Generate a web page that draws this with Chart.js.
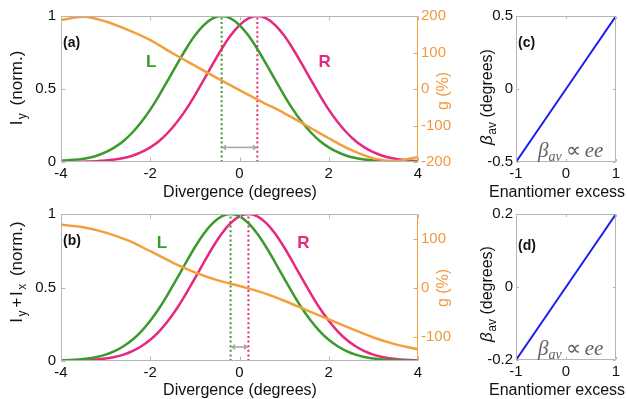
<!DOCTYPE html>
<html>
<head>
<meta charset="utf-8">
<script src="https://cdn.jsdelivr.net/npm/chart.js@4.4.1/dist/chart.umd.min.js"></script>
<style>
html,body{margin:0;padding:0;background:#fff;overflow:hidden;}
#fig{position:relative;width:627px;height:399px;background:#fff;}
#fig canvas{position:absolute;left:0;top:0;}
</style>
</head>
<body>
<div id="fig">
<canvas id="panelA" width="627" height="399"></canvas>
<canvas id="panelB" width="627" height="399"></canvas>
<canvas id="panelC" width="627" height="399"></canvas>
<canvas id="panelD" width="627" height="399"></canvas>
</div>
<script>
// ================= DATA =================
// Divergence axis samples (degrees)
const divergence = [-4.0,-3.8,-3.6,-3.4,-3.2,-3.0,-2.8,-2.6,-2.4,-2.2,-2.0,-1.8,-1.6,-1.4,-1.2,-1.0,-0.8,-0.6,-0.4,-0.2,0.0,0.2,0.4,0.6,0.8,1.0,1.2,1.4,1.6,1.8,2.0,2.2,2.4,2.6,2.8,3.0,3.2,3.4,3.6,3.8,4.0];
// Panel (a): I_y (norm.) for L and R
const intensityL_a = [0.010,0.013,0.018,0.027,0.043,0.067,0.100,0.144,0.202,0.274,0.359,0.457,0.562,0.670,0.774,0.866,0.938,0.984,1.000,0.984,0.938,0.866,0.774,0.670,0.562,0.457,0.359,0.274,0.202,0.144,0.100,0.067,0.043,0.027,0.017,0.010,0.006,0.003,0.002,0.001,0.000];
const intensityR_a = [0.000,0.001,0.002,0.003,0.006,0.010,0.017,0.027,0.043,0.067,0.100,0.144,0.202,0.274,0.359,0.457,0.562,0.670,0.774,0.866,0.938,0.984,1.000,0.984,0.938,0.866,0.774,0.670,0.562,0.457,0.359,0.274,0.202,0.144,0.100,0.067,0.043,0.027,0.017,0.010,0.006];
// Panel (b): I_y + I_x (norm.) for L and R
const intensityL_b = [0.004,0.006,0.010,0.017,0.027,0.043,0.067,0.100,0.144,0.202,0.274,0.359,0.457,0.562,0.670,0.774,0.866,0.938,0.984,1.000,0.984,0.938,0.866,0.774,0.670,0.562,0.457,0.359,0.274,0.202,0.144,0.100,0.067,0.043,0.027,0.017,0.010,0.006,0.003,0.002,0.001];
const intensityR_b = [0.001,0.002,0.003,0.006,0.010,0.017,0.027,0.043,0.067,0.100,0.144,0.202,0.274,0.359,0.457,0.562,0.670,0.774,0.866,0.938,0.984,1.000,0.984,0.938,0.866,0.774,0.670,0.562,0.457,0.359,0.274,0.202,0.144,0.100,0.067,0.043,0.027,0.017,0.010,0.006,0.004];
// g (%) curves
const gDivergence = [-4,-3.5,-3,-2.5,-2,-1.5,-1,-0.5,0,0.5,1,1.5,2,2.5,3,3.5,4];
const g_a = [189,198,185,162,134,98,64,30,-3,-35,-66,-100,-135,-167,-190,-197,-186];
const g_b = [128,123,112,96,74,51,31,15,3,-10,-27,-46,-65,-84,-102,-116,-126];
// Peak positions (degrees) of L and R
const peaks_a = [-0.4, 0.4];
const peaks_b = [-0.2, 0.2];
// Panels (c),(d): beta_av vs enantiomer excess
const enantiomerExcess = [-1,-0.5,0,0.5,1];
const beta_c = [-0.5,-0.25,0,0.25,0.5];
const beta_d = [-0.2,-0.1,0,0.1,0.2];
// Tick labels
const ticksDivergence = [-4,-2,0,2,4];
const ticksNorm = [0,0.5,1];
const ticksG_a = [-200,-100,0,100,200];
const ticksG_b = [-100,0,100];
const ticksEE = [-1,0,1];
const ticksBeta_c = [-0.5,0,0.5];
const ticksBeta_d = [-0.2,0,0.2];

// ================= STYLE =================
const SANS = "'Liberation Sans', Arial, Helvetica, sans-serif";
const SERIF = "'Liberation Serif', 'Times New Roman', serif";
const FIG_W = 627, FIG_H = 399;
const C = { L:'#3a9a2c', R:'#e6287e', g:'#f2a03f', gText:'#f0993c', beta:'#1c1cf0',
            frame:'#b5b5b5', arrow:'#a8a8a8', text:'#111111', math:'#626262' };
Chart.defaults.font.family = SANS;

function pts(xs, ys){ return xs.map((x,i)=>({x:x, y:ys[i]})); }

function richText(ctx, s){
  ctx.save();
  ctx.translate(s.x, s.y);
  if (s.rotate) ctx.rotate(-Math.PI/2);
  ctx.textBaseline = s.baseline || 'alphabetic';
  ctx.textAlign = 'left';
  const fonts = s.parts.map(p => `${p.style||'normal'} ${p.weight||'normal'} ${p.size}px ${p.family||SANS}`);
  const widths = s.parts.map((p,i)=>{ ctx.font = fonts[i]; return ctx.measureText(p.t).width + (p.gap||0); });
  const total = widths.reduce((a,b)=>a+b,0);
  let cx = s.align==='center' ? -total/2 : 0;
  s.parts.forEach((p,i)=>{
    ctx.font = fonts[i];
    ctx.fillStyle = p.color || s.color || C.text;
    ctx.fillText(p.t, cx, p.dy||0);
    cx += widths[i];
  });
  ctx.restore();
}

const framePlugin = {
  id:'frame',
  afterDatasetsDraw(chart, args, o){
    const ctx = chart.ctx, a = chart.chartArea;
    const L = Math.round(a.left)+0.5, R = Math.round(a.right)-0.5, T = Math.round(a.top)+0.5, B = Math.round(a.bottom)-0.5;
    const tl = o.tickLen;
    ctx.save(); ctx.lineWidth = 1;
    const seg=(x1,y1,x2,y2,c)=>{ctx.strokeStyle=c;ctx.beginPath();ctx.moveTo(x1,y1);ctx.lineTo(x2,y2);ctx.stroke();};
    const sx = chart.scales.x, sy = chart.scales.y, sy2 = chart.scales.y2;
    sx.ticks.forEach(t=>{const p=Math.round(sx.getPixelForValue(t.value))+0.5; seg(p,B,p,B-tl,C.frame); seg(p,T,p,T+tl,C.frame);});
    sy.ticks.forEach(t=>{const p=Math.round(sy.getPixelForValue(t.value))+0.5; seg(L,p,L+tl,p,C.frame); if(!sy2) seg(R,p,R-tl,p,C.frame);});
    if (sy2) sy2.ticks.forEach(t=>{const p=Math.round(sy2.getPixelForValue(t.value))+0.5; seg(R,p,R-tl,p,C.g);});
    seg(L,T,R,T,C.frame); seg(L,B,R,B,C.frame); seg(L,T,L,B,C.frame); seg(R,T,R,B, sy2?C.g:C.frame);
    ctx.restore();
  }
};

const arrowPlugin = {
  id:'arrow',
  afterDatasetsDraw(chart, args, o){
    if (o.from === undefined) return;
    const ctx = chart.ctx, sx = chart.scales.x, sy = chart.scales.y;
    const x1 = sx.getPixelForValue(o.from), x2 = sx.getPixelForValue(o.to), y = sy.getPixelForValue(o.level);
    const hl = 4.5, hw = 3;
    ctx.save();
    ctx.strokeStyle = C.arrow; ctx.fillStyle = C.arrow; ctx.lineWidth = 1.6;
    ctx.beginPath(); ctx.moveTo(x1+hl, y); ctx.lineTo(x2-hl, y); ctx.stroke();
    ctx.beginPath(); ctx.moveTo(x1, y); ctx.lineTo(x1+hl, y-hw); ctx.lineTo(x1+hl, y+hw); ctx.closePath(); ctx.fill();
    ctx.beginPath(); ctx.moveTo(x2, y); ctx.lineTo(x2-hl, y-hw); ctx.lineTo(x2-hl, y+hw); ctx.closePath(); ctx.fill();
    ctx.restore();
  }
};

const textPlugin = {
  id:'texts',
  afterDraw(chart, args, o){
    (o.items||[]).forEach(it=>{
      let x = it.x, y = it.y;
      if (it.data){ x = chart.scales.x.getPixelForValue(it.x); y = chart.scales.y.getPixelForValue(it.y); }
      richText(chart.ctx, Object.assign({}, it, {x:x, y:y}));
    });
  }
};

function tickFont(){ return {size:15, family:SANS}; }
function fmt(v){ return String(Math.round(v*1000)/1000); }
function xScale(min, max, ticks, area){
  return { type:'linear', position:'bottom', min:min, max:max,
    afterBuildTicks: s => { s.ticks = ticks.map(v=>({value:v})); },
    afterFit: s => { s.height = FIG_H - area.bottom; },
    grid:{display:false, drawTicks:false}, border:{display:false},
    ticks:{color:C.text, font:tickFont(), padding:3, maxRotation:0, autoSkip:false, callback: fmt} };
}
function yScale(pos, min, max, ticks, width, color, pad){
  return { type:'linear', position:pos, min:min, max:max,
    afterBuildTicks: s => { s.ticks = ticks.map(v=>({value:v})); },
    afterFit: s => { s.width = width; },
    grid:{display:false, drawTicks:false}, border:{display:false},
    ticks:{color:color, font:tickFont(), padding:pad, autoSkip:false, callback: fmt} };
}
function curve(xs, ys, color, extra){
  return Object.assign({data:pts(xs, ys), borderColor:color, borderWidth:2.5, pointRadius:0, cubicInterpolationMode:'monotone', fill:false}, extra||{});
}
function dotted(xv, color){
  return {data:[{x:xv,y:0},{x:xv,y:1}], borderColor:color, borderWidth:2, borderDash:[2,2.6], pointRadius:0, fill:false};
}
function baseOptions(area, hasY2){
  return { responsive:false, devicePixelRatio:1, animation:false, events:[],
    layout:{padding:{top:area.top, left:0, bottom:0, right: hasY2 ? 0 : FIG_W - area.right}} };
}

// ================= PANEL (a) =================
const areaA = {left:61, right:418, top:16, bottom:162};
new Chart(document.getElementById('panelA'), {
  type:'line',
  data:{datasets:[
    curve(gDivergence, g_a, C.g, {yAxisID:'y2'}),
    curve(divergence, intensityL_a, C.L),
    curve(divergence, intensityR_a, C.R),
    dotted(peaks_a[0], C.L),
    dotted(peaks_a[1], C.R)
  ]},
  options: Object.assign(baseOptions(areaA, true), {
    plugins:{ legend:{display:false}, tooltip:{enabled:false},
      frame:{tickLen:4},
      arrow:{from:peaks_a[0], to:peaks_a[1], level:0.1},
      texts:{items:[
        {x:240, y:196.5, align:'center', parts:[{t:'Divergence (degrees)', size:16}]},
        {x:22, y:88, rotate:true, align:'center', parts:[{t:'I', size:17, gap:1.5},{t:'y', size:12, dy:4, gap:3},{t:' (norm.)', size:17}]},
        {x:448, y:91, rotate:true, align:'center', color:C.gText, parts:[{t:'g (%)', size:16}]},
        {x:63, y:47, parts:[{t:'(a)', size:14, weight:'bold'}]},
        {data:true, x:-1.98, y:0.68, align:'center', baseline:'middle', color:C.L, parts:[{t:'L', size:17, weight:'bold'}]},
        {data:true, x:1.91, y:0.68, align:'center', baseline:'middle', color:C.R, parts:[{t:'R', size:17, weight:'bold'}]}
      ]}
    },
    scales:{
      x: xScale(-4, 4, ticksDivergence, areaA),
      y: yScale('left', 0, 1, ticksNorm, areaA.left, C.text, 5),
      y2: yScale('right', -200, 200, ticksG_a, FIG_W - areaA.right, C.gText, 3)
    }
  }),
  plugins:[framePlugin, arrowPlugin, textPlugin]
});

// ================= PANEL (b) =================
const areaB = {left:61, right:418, top:214, bottom:361};
new Chart(document.getElementById('panelB'), {
  type:'line',
  data:{datasets:[
    curve(gDivergence, g_b, C.g, {yAxisID:'y2'}),
    curve(divergence, intensityL_b, C.L),
    curve(divergence, intensityR_b, C.R),
    dotted(peaks_b[0], C.L),
    dotted(peaks_b[1], C.R)
  ]},
  options: Object.assign(baseOptions(areaB, true), {
    plugins:{ legend:{display:false}, tooltip:{enabled:false},
      frame:{tickLen:4},
      arrow:{from:peaks_b[0], to:peaks_b[1], level:0.095},
      texts:{items:[
        {x:240, y:394.5, align:'center', parts:[{t:'Divergence (degrees)', size:16}]},
        {x:22, y:272, rotate:true, align:'center', parts:[{t:'I', size:17, gap:1.5},{t:'y', size:12, dy:4, gap:3},{t:'+', size:17, gap:1.5},{t:'I', size:17, gap:1.5},{t:'x', size:12, dy:4, gap:3},{t:' (norm.)', size:17}]},
        {x:448, y:288, rotate:true, align:'center', color:C.gText, parts:[{t:'g (%)', size:16}]},
        {x:63, y:245, parts:[{t:'(b)', size:14, weight:'bold'}]},
        {data:true, x:-1.74, y:0.80, align:'center', baseline:'middle', color:C.L, parts:[{t:'L', size:17, weight:'bold'}]},
        {data:true, x:1.43, y:0.80, align:'center', baseline:'middle', color:C.R, parts:[{t:'R', size:17, weight:'bold'}]}
      ]}
    },
    scales:{
      x: xScale(-4, 4, ticksDivergence, areaB),
      y: yScale('left', 0, 1, ticksNorm, areaB.left, C.text, 5),
      y2: yScale('right', -150, 150, ticksG_b, FIG_W - areaB.right, C.gText, 3)
    }
  }),
  plugins:[framePlugin, arrowPlugin, textPlugin]
});

// ================= PANELS (c), (d) =================
function betaPanel(id, area, betaVals, betaTicks, betaMax, letter, letterY, titleY, xTitleY, mathY){
  new Chart(document.getElementById(id), {
    type:'line',
    data:{datasets:[ {data:pts(enantiomerExcess, betaVals), borderColor:C.beta, borderWidth:2, pointRadius:0, tension:0, fill:false} ]},
    options: Object.assign(baseOptions(area, false), {
      plugins:{ legend:{display:false}, tooltip:{enabled:false},
        frame:{tickLen:2.5},
        texts:{items:[
          {x:557, y:xTitleY, align:'center', parts:[{t:'Enantiomer excess', size:16}]},
          {x:492, y:titleY, rotate:true, align:'center', parts:[{t:'\u03B2', size:17, style:'italic', gap:0.5},{t:'av', size:12, dy:4},{t:' (degrees)', size:16}]},
          {x:518, y:letterY, parts:[{t:letter, size:14, weight:'bold'}]},
          {x:538, y:mathY, color:C.math, parts:[
            {t:'\u03B2', size:21, style:'italic', family:SERIF},
            {t:'av', size:14, style:'italic', family:SERIF, dy:4, gap:4},
            {t:'\u221D', size:21, family:SERIF, gap:4},
            {t:'ee', size:21, style:'italic', family:SERIF}
          ]}
        ]}
      },
      scales:{
        x: xScale(-1, 1, ticksEE, area),
        y: yScale('left', -betaMax, betaMax, betaTicks, area.left, C.text, 3)
      }
    }),
    plugins:[framePlugin, textPlugin]
  });
}
betaPanel('panelC', {left:516, right:616, top:16, bottom:162}, beta_c, ticksBeta_c, 0.5, '(c)', 47, 97, 196.5, 156.5);
betaPanel('panelD', {left:516, right:616, top:214, bottom:360}, beta_d, ticksBeta_d, 0.2, '(d)', 250, 294, 394.5, 355);
</script>
</body>
</html>
